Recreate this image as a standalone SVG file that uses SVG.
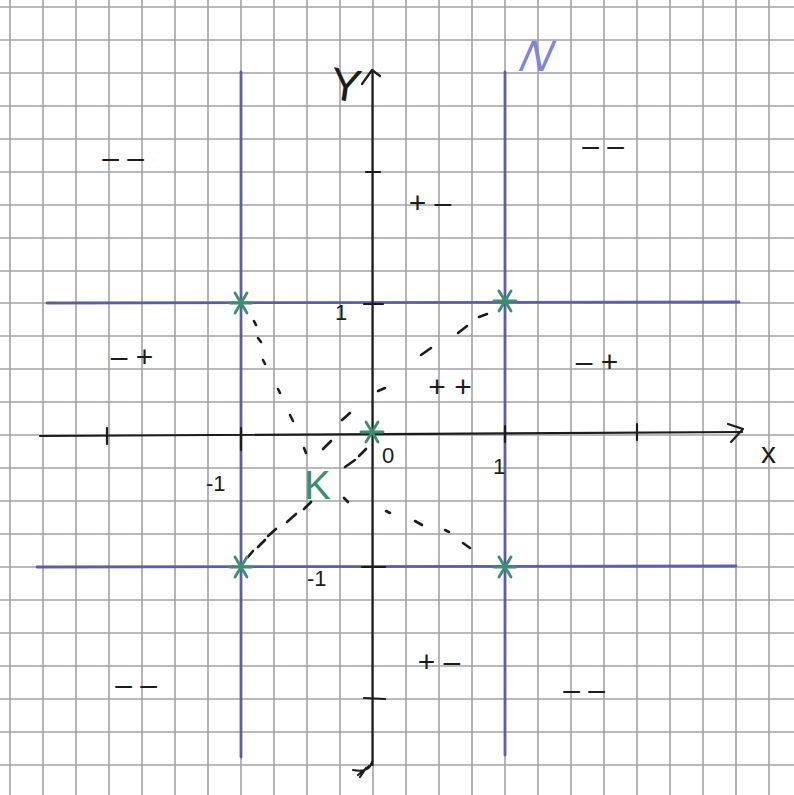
<svg xmlns="http://www.w3.org/2000/svg" width="794" height="795" viewBox="0 0 794 795">
<defs>
<style>
.grid line{stroke:#a3a3a8;stroke-width:1.6}
.ink{stroke:#1c1c1c;stroke-width:2.2;fill:none;stroke-linecap:round;stroke-linejoin:round}
.blue{stroke:#5656a0;stroke-width:2.8;fill:none;stroke-linecap:round;opacity:0.92}
.dash line{stroke:#1c1c1c;stroke-width:2.6;stroke-linecap:round}
.star{stroke:#3e8d72;stroke-width:2.8;fill:none;stroke-linecap:round}
.t{font-family:"Liberation Sans",Arial,sans-serif;fill:#1c1c1c}
.sign{font-size:30px}
.num{font-size:22px}
</style>
<g id="ast"><line x1="-11" y1="0" x2="11" y2="0"/><line x1="-6" y1="-10" x2="6" y2="10"/><line x1="-6" y1="10" x2="6" y2="-10"/></g>
</defs>
<rect width="794" height="795" fill="#ffffff"/>
<g id="grid" class="grid">
<line x1="10" y1="0" x2="10" y2="795"/><line x1="43" y1="0" x2="43" y2="795"/><line x1="76" y1="0" x2="76" y2="795"/><line x1="109" y1="0" x2="109" y2="795"/><line x1="142" y1="0" x2="142" y2="795"/><line x1="175" y1="0" x2="175" y2="795"/><line x1="208" y1="0" x2="208" y2="795"/><line x1="241" y1="0" x2="241" y2="795"/><line x1="274" y1="0" x2="274" y2="795"/><line x1="307" y1="0" x2="307" y2="795"/><line x1="340" y1="0" x2="340" y2="795"/><line x1="373" y1="0" x2="373" y2="795"/><line x1="406" y1="0" x2="406" y2="795"/><line x1="439" y1="0" x2="439" y2="795"/><line x1="472" y1="0" x2="472" y2="795"/><line x1="505" y1="0" x2="505" y2="795"/><line x1="538" y1="0" x2="538" y2="795"/><line x1="571" y1="0" x2="571" y2="795"/><line x1="604" y1="0" x2="604" y2="795"/><line x1="637" y1="0" x2="637" y2="795"/><line x1="670" y1="0" x2="670" y2="795"/><line x1="703" y1="0" x2="703" y2="795"/><line x1="736" y1="0" x2="736" y2="795"/><line x1="769" y1="0" x2="769" y2="795"/>
<line x1="0" y1="7" x2="794" y2="7"/><line x1="0" y1="40" x2="794" y2="40"/><line x1="0" y1="73" x2="794" y2="73"/><line x1="0" y1="106" x2="794" y2="106"/><line x1="0" y1="139" x2="794" y2="139"/><line x1="0" y1="172" x2="794" y2="172"/><line x1="0" y1="205" x2="794" y2="205"/><line x1="0" y1="238" x2="794" y2="238"/><line x1="0" y1="271" x2="794" y2="271"/><line x1="0" y1="303" x2="794" y2="303"/><line x1="0" y1="336" x2="794" y2="336"/><line x1="0" y1="369" x2="794" y2="369"/><line x1="0" y1="402" x2="794" y2="402"/><line x1="0" y1="435" x2="794" y2="435"/><line x1="0" y1="468" x2="794" y2="468"/><line x1="0" y1="501" x2="794" y2="501"/><line x1="0" y1="534" x2="794" y2="534"/><line x1="0" y1="567" x2="794" y2="567"/><line x1="0" y1="600" x2="794" y2="600"/><line x1="0" y1="633" x2="794" y2="633"/><line x1="0" y1="666" x2="794" y2="666"/><line x1="0" y1="699" x2="794" y2="699"/><line x1="0" y1="732" x2="794" y2="732"/><line x1="0" y1="765" x2="794" y2="765"/>
</g>
<g id="blue-lines" class="blue">
<line x1="241" y1="72" x2="241" y2="757"/>
<line x1="505" y1="72" x2="505" y2="755"/>
<line x1="47" y1="303" x2="739" y2="302"/>
<line x1="37" y1="567" x2="736" y2="566"/>
</g>
<g id="axes" class="ink">
<line x1="40" y1="436" x2="742" y2="432"/>
<path d="M728,424 L743,429 L731,442"/>
<line x1="372.5" y1="71" x2="372.5" y2="765"/>
<path d="M362,84 L372,70 L380,76"/>
<path d="M372,762 C370,770 362,772 353,770 M369,766 L358,775 M366,768 L360,777"/>
<line x1="107" y1="428" x2="107" y2="444"/>
<line x1="241" y1="428" x2="241" y2="450"/>
<line x1="505" y1="426" x2="505" y2="442"/>
<line x1="637" y1="424" x2="637" y2="440"/>
<line x1="366" y1="172" x2="380" y2="172"/>
<line x1="364" y1="304" x2="383" y2="304"/>
<line x1="362" y1="567" x2="385" y2="567"/>
<line x1="364" y1="698" x2="385" y2="699"/>
</g>
<g id="connectors">
<g id="line-a" class="dash">
<line x1="248" y1="557" x2="253" y2="551"/>
<line x1="258" y1="547" x2="265" y2="540"/>
<line x1="268" y1="536" x2="276" y2="529"/>
<line x1="287" y1="522" x2="296" y2="514"/>
<line x1="304" y1="509" x2="311" y2="502"/>
<line x1="345" y1="467" x2="355" y2="460"/>
<line x1="359" y1="456" x2="366" y2="449"/>
</g>
<g id="line-b" class="dash">
<line x1="323" y1="449" x2="331" y2="441"/>
<line x1="342" y1="420" x2="350" y2="413"/>
<line x1="378" y1="391" x2="385" y2="388"/>
<line x1="421" y1="355" x2="431" y2="348"/>
<line x1="458" y1="333" x2="467" y2="326"/>
<line x1="479" y1="317" x2="487" y2="314"/>
</g>
<g id="curve-c" class="dash">
<line x1="254" y1="321" x2="256" y2="325"/>
<line x1="258" y1="338" x2="261" y2="342"/>
<line x1="263" y1="360" x2="265" y2="364"/>
<line x1="278" y1="389" x2="280" y2="393"/>
<line x1="290" y1="415" x2="293" y2="421"/>
<line x1="304" y1="448" x2="306" y2="453"/>
<line x1="344" y1="498" x2="348" y2="502"/>
<line x1="386" y1="511" x2="390" y2="513"/>
<line x1="415" y1="521" x2="422" y2="525"/>
<line x1="445" y1="530" x2="449" y2="532"/>
<line x1="463" y1="543" x2="470" y2="548"/>
</g>
</g>
<g id="points" class="star">
<use href="#ast" x="241" y="303"/>
<use href="#ast" x="505" y="301"/>
<use href="#ast" x="372" y="432"/>
<use href="#ast" x="241" y="567"/>
<use href="#ast" x="505" y="567"/>
</g>
<g id="axis-labels">
<text class="t" x="331" y="100" font-size="46" transform="rotate(8 341 82)">Y</text>
<text class="t" x="761" y="463" font-size="30">x</text>
<text class="t num" x="382" y="463">0</text>
<text class="t num" x="335" y="320">1</text>
<text class="t num" x="493" y="474">1</text>
<text class="t num" x="206" y="491">-1</text>
<text class="t num" x="307" y="586">-1</text>
<text x="304" y="499" font-family="Liberation Sans,Arial,sans-serif" font-size="40" fill="#3e8d72">K</text>
<text x="535" y="71" font-family="Liberation Sans,Arial,sans-serif" font-size="44" font-style="italic" fill="#8185d6" transform="skewX(-14)" dx="0">N</text>
</g>
<g id="sign-labels" class="t sign">
<text x="123" y="168" text-anchor="middle">– –</text>
<text x="430" y="213" text-anchor="middle">+ –</text>
<text x="603" y="156" text-anchor="middle">– –</text>
<text x="132" y="367" text-anchor="middle">– +</text>
<text x="450" y="397" text-anchor="middle">+ +</text>
<text x="597" y="372" text-anchor="middle">– +</text>
<text x="136" y="695" text-anchor="middle">– –</text>
<text x="439" y="672" text-anchor="middle">+ –</text>
<text x="584" y="700" text-anchor="middle">– –</text>
</g>
</svg>
